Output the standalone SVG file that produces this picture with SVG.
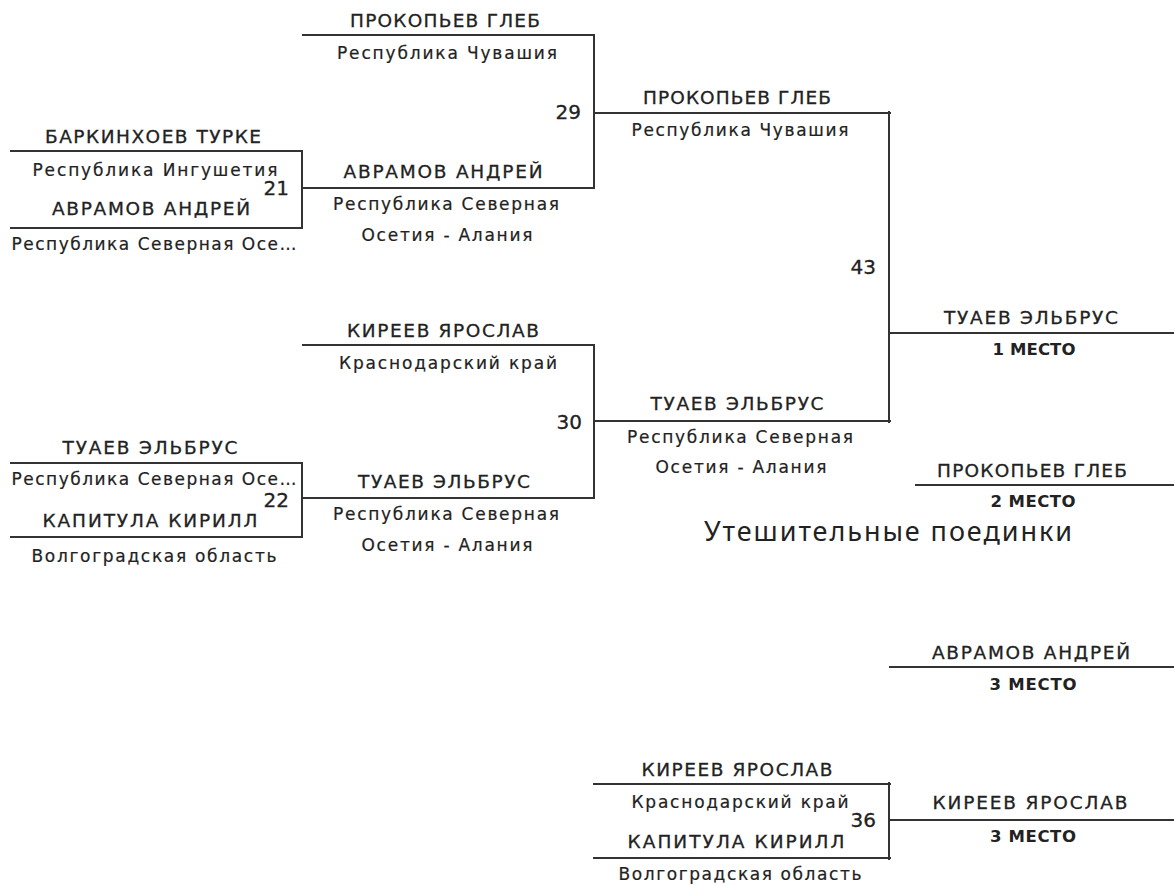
<svg xmlns="http://www.w3.org/2000/svg" width="1174" height="885" viewBox="0 0 1174 885">
<style>
text{font-family:"DejaVu Sans","Liberation Sans",sans-serif;fill:#222}
.n{font-size:18.5px;text-anchor:middle;stroke:#222;stroke-width:0.3}
.r{font-size:17px;text-anchor:middle;stroke:#222;stroke-width:0.2}
.num{font-size:20px;text-anchor:end;stroke:#222;stroke-width:0.3}
.p{font-size:16.5px;font-weight:bold;text-anchor:middle}
.t{font-family:"Noto Sans","Liberation Sans",sans-serif;font-size:27px;fill:#222}
.ln{stroke:#333;stroke-width:2;fill:none}
</style>
<rect width="1174" height="885" fill="#fff"/>
<g id="connectors" class="ln">
<path d="M10 151H302V228H10"/>
<path d="M10 463H302V537H10"/>
<path d="M302 35H594V188H302"/>
<path d="M302 345H594V498H302"/>
<path d="M594 113H891M889 111V423M594 421H891"/>
<path d="M889 333H1174"/>
<path d="M915 485H1174"/>
<path d="M889 667H1174"/>
<path d="M593 784H891M889 782V860M593 858H891"/>
<path d="M889 820H1174"/>
</g>
<g id="m21">
<g id="m21-a"><text class="n" x="153" y="143" textLength="216" lengthAdjust="spacing">БАРКИНХОЕВ ТУРКЕ</text><text class="r" x="155" y="176" textLength="245" lengthAdjust="spacing">Республика Ингушетия</text></g>
<text class="num" x="289" y="195">21</text>
<g id="m21-b"><text class="n" x="151" y="215" textLength="198" lengthAdjust="spacing">АВРАМОВ АНДРЕЙ</text><text class="r" x="154" y="250" textLength="285" lengthAdjust="spacing">Республика Северная Осе…</text></g>
</g>
<g id="m22">
<g id="m22-a"><text class="n" x="150" y="454" textLength="175" lengthAdjust="spacing">ТУАЕВ ЭЛЬБРУС</text><text class="r" x="154" y="485" textLength="285" lengthAdjust="spacing">Республика Северная Осе…</text></g>
<text class="num" x="289" y="507">22</text>
<g id="m22-b"><text class="n" x="150" y="527" textLength="215" lengthAdjust="spacing">КАПИТУЛА КИРИЛЛ</text><text class="r" x="154" y="562" textLength="245" lengthAdjust="spacing">Волгоградская область</text></g>
</g>
<g id="m29">
<g id="m29-a"><text class="n" x="445" y="27" textLength="190" lengthAdjust="spacing">ПРОКОПЬЕВ ГЛЕБ</text><text class="r" x="447" y="59" textLength="220" lengthAdjust="spacing">Республика Чувашия</text></g>
<text class="num" x="581" y="119">29</text>
<g id="m29-b"><text class="n" x="443" y="178" textLength="199" lengthAdjust="spacing">АВРАМОВ АНДРЕЙ</text><text class="r" x="446" y="210" textLength="226" lengthAdjust="spacing">Республика Северная</text><text class="r" x="447" y="241" textLength="171" lengthAdjust="spacing">Осетия - Алания</text></g>
</g>
<g id="m30">
<g id="m30-a"><text class="n" x="443" y="337" textLength="192" lengthAdjust="spacing">КИРЕЕВ ЯРОСЛАВ</text><text class="r" x="448" y="369" textLength="218" lengthAdjust="spacing">Краснодарский край</text></g>
<text class="num" x="582" y="429">30</text>
<g id="m30-b"><text class="n" x="444" y="488" textLength="172" lengthAdjust="spacing">ТУАЕВ ЭЛЬБРУС</text><text class="r" x="446" y="520" textLength="226" lengthAdjust="spacing">Республика Северная</text><text class="r" x="447" y="551" textLength="171" lengthAdjust="spacing">Осетия - Алания</text></g>
</g>
<g id="m43">
<g id="m43-a"><text class="n" x="737" y="104" textLength="188" lengthAdjust="spacing">ПРОКОПЬЕВ ГЛЕБ</text><text class="r" x="740" y="136" textLength="217" lengthAdjust="spacing">Республика Чувашия</text></g>
<text class="num" x="876" y="274">43</text>
<g id="m43-b"><text class="n" x="737" y="410" textLength="173" lengthAdjust="spacing">ТУАЕВ ЭЛЬБРУС</text><text class="r" x="740" y="443" textLength="226" lengthAdjust="spacing">Республика Северная</text><text class="r" x="741" y="473" textLength="171" lengthAdjust="spacing">Осетия - Алания</text></g>
</g>
<g id="place1"><text class="n" x="1031" y="324" textLength="174" lengthAdjust="spacing">ТУАЕВ ЭЛЬБРУС</text><text class="p" x="1034" y="355" textLength="83" lengthAdjust="spacing">1 МЕСТО</text></g>
<g id="place2"><text class="n" x="1032" y="477" textLength="190" lengthAdjust="spacing">ПРОКОПЬЕВ ГЛЕБ</text><text class="p" x="1033" y="507" textLength="85" lengthAdjust="spacing">2 МЕСТО</text></g>
<text class="t" x="704" y="541" textLength="368" lengthAdjust="spacing">Утешительные поединки</text>
<g id="place3a"><text class="n" x="1031" y="659" textLength="198" lengthAdjust="spacing">АВРАМОВ АНДРЕЙ</text><text class="p" x="1033" y="690" textLength="87" lengthAdjust="spacing">3 МЕСТО</text></g>
<g id="m36">
<g id="m36-a"><text class="n" x="737" y="776" textLength="191" lengthAdjust="spacing">КИРЕЕВ ЯРОСЛАВ</text><text class="r" x="740" y="808" textLength="217" lengthAdjust="spacing">Краснодарский край</text></g>
<text class="num" x="876" y="827">36</text>
<g id="m36-b"><text class="n" x="736" y="848" textLength="217" lengthAdjust="spacing">КАПИТУЛА КИРИЛЛ</text><text class="r" x="740" y="880" textLength="243" lengthAdjust="spacing">Волгоградская область</text></g>
</g>
<g id="place3b"><text class="n" x="1030" y="809" textLength="195" lengthAdjust="spacing">КИРЕЕВ ЯРОСЛАВ</text><text class="p" x="1033" y="842" textLength="86" lengthAdjust="spacing">3 МЕСТО</text></g>
</svg>
